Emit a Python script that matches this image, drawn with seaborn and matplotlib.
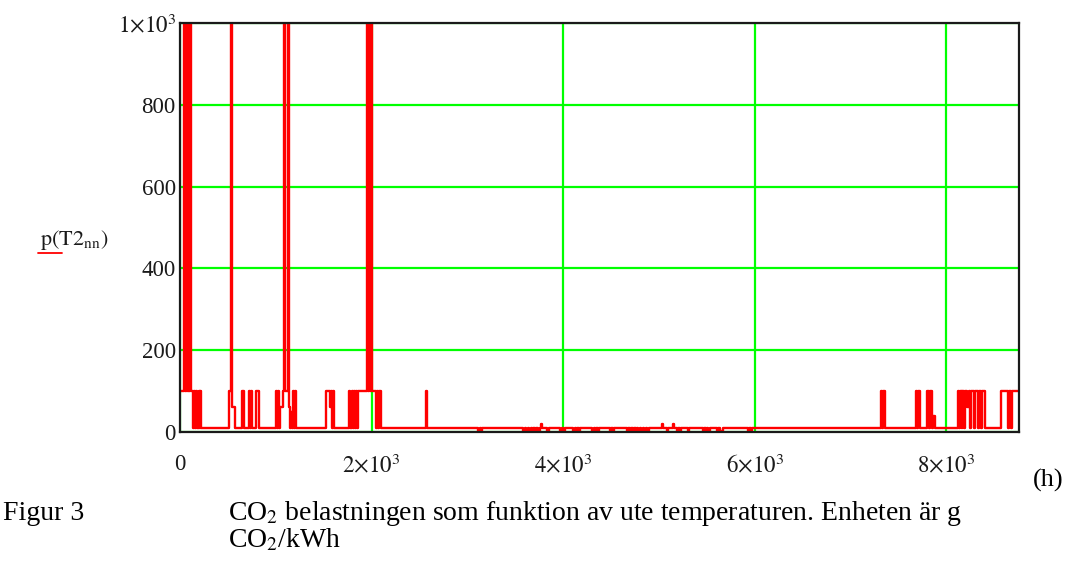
import matplotlib
matplotlib.use("Agg")
import matplotlib.pyplot as plt
from matplotlib.lines import Line2D
import seaborn as sns
import pandas as pd

# ---- data: hour at which the CO2 load changes, and the new level (g CO2/kWh) ----
change_hours = [
    0, 40, 52, 58, 70, 76, 86, 102, 114,
    134, 146, 158, 170, 182, 194, 206, 214, 220,
    510, 533, 548, 578,
    648, 668,
    716, 730, 737, 750,
    790, 822,
    1000, 1012, 1024, 1036, 1046, 1074, 1084, 1096, 1124, 1138, 1150, 1160, 1168, 1178, 1192, 1198, 1208,
    1520, 1568, 1575, 1586, 1596, 1608,
    1766, 1780, 1792, 1804, 1816, 1828, 1840, 1852, 1862,
    1950, 1962, 1972, 1984, 1994, 2008,
    2044, 2056, 2068, 2080, 2094,
    2568, 2576,
    3115, 3130, 3140, 3155, 3167,
    3583, 3600, 3615, 3630, 3645, 3660, 3675, 3690, 3705, 3720, 3735, 3760, 3768, 3776,
    3833, 3850, 3865,
    3970, 3985, 4000, 4015, 4042,
    4104, 4120, 4135, 4150, 4165, 4180, 4208,
    4302, 4318, 4333, 4348, 4363, 4378, 4406,
    4490, 4505, 4520, 4535, 4563,
    4667, 4682, 4697, 4712, 4727, 4742, 4757, 4772, 4787, 4802, 4817, 4832, 4847, 4862, 4877, 4892, 4927,
    5031, 5040, 5083, 5098, 5115, 5146, 5155,
    5188, 5203, 5218, 5233, 5250,
    5302, 5318, 5354,
    5458, 5473, 5488, 5503, 5518, 5533, 5552,
    5604, 5619, 5634, 5667,
    5927, 5942, 5957, 5972, 6000,
    7320, 7334, 7340, 7356,
    7688, 7700, 7708, 7730,
    7795, 7818, 7826, 7852, 7862, 7880,
    8118, 8132, 8142, 8160, 8170, 8190, 8200, 8222, 8238, 8252, 8262, 8290, 8300, 8330, 8340, 8362, 8372, 8400, 8413,
    8570, 8640, 8652, 8672, 8682,
]
co2_levels = [
    100, 1000, 100, 1000, 100, 1000, 100, 1000, 100,
    10, 100, 10, 100, 10, 100, 10, 100, 10,
    100, 1000, 60, 10,
    100, 10,
    100, 10, 100, 10,
    100, 10,
    100, 10, 100, 10, 60, 100, 1000, 100, 1000, 60, 10, 50, 10, 100, 10, 100, 10,
    100, 60, 100, 10, 100, 10,
    100, 10, 100, 10, 100, 10, 100, 10, 100,
    1000, 100, 1000, 100, 1000, 100,
    10, 100, 10, 100, 10,
    100, 10,
    2, 10, 2, 10, 10,
    2, 10, 2, 10, 2, 10, 2, 10, 2, 10, 2, 10, 20, 10,
    2, 10, 10,
    2, 10, 2, 10, 10,
    2, 10, 2, 10, 2, 10, 10,
    2, 10, 2, 10, 2, 10, 10,
    2, 10, 2, 10, 10,
    2, 10, 2, 10, 2, 10, 2, 10, 2, 10, 2, 10, 2, 10, 2, 10, 10,
    20, 10, 2, 10, 10, 20, 10,
    2, 10, 2, 10, 10,
    2, 10, 10,
    2, 10, 2, 10, 2, 10, 10,
    2, 10, 2, 10,
    2, 10, 2, 10, 10,
    100, 10, 100, 10,
    100, 10, 100, 10,
    100, 10, 100, 10, 40, 10,
    100, 10, 100, 10, 100, 10, 100, 60, 100, 10, 100, 10, 100, 10, 100, 10, 100, 10, 10,
    100, 10, 100, 10, 100,
]
x_ticks = [0, 2000, 4000, 6000, 8000]
x_tick_labels = ["0", r"$2{\times}10^{3}$", r"$4{\times}10^{3}$", r"$6{\times}10^{3}$", r"$8{\times}10^{3}$"]
y_ticks = [0, 200, 400, 600, 800, 1000]
y_tick_labels = ["0", "200", "400", "600", "800", r"$1{\times}10^{3}$"]
HOURS_IN_YEAR = 8760

sns.set_theme(style="white")
plt.rcParams["font.family"] = ["Liberation Serif", "DejaVu Serif"]
plt.rcParams["mathtext.fontset"] = "stix"

W, H = 1067, 561
fig = plt.figure(figsize=(W / 100, H / 100), dpi=100)
fig.patch.set_facecolor("white")
ax = fig.add_axes([180 / W, 1 - 432 / H, (1019 - 180) / W, (432 - 23) / H])

df = pd.DataFrame({
    "hour": change_hours + [HOURS_IN_YEAR],
    "co2": co2_levels + [co2_levels[-1]],
})
sns.lineplot(data=df, x="hour", y="co2", ax=ax, drawstyle="steps-post",
             color="#ff0000", linewidth=1.7, estimator=None, sort=False)

ax.set_xlim(0, HOURS_IN_YEAR)
ax.set_ylim(0, 1000)
ax.set_xticks(x_ticks)
ax.set_xticklabels(x_tick_labels)
ax.set_yticks(y_ticks)
ax.set_yticklabels(y_tick_labels)
ax.set_xlabel("")
ax.set_ylabel("")
ax.grid(True, color="#00ff00", linewidth=1.6)
ax.set_axisbelow(True)
ax.tick_params(axis="both", length=0, labelsize=16.5, colors="#1a1a1a")
ax.tick_params(axis="x", pad=16)
ax.tick_params(axis="y", pad=3)
for s in ax.spines.values():
    s.set_color("#1a1a1a")
    s.set_linewidth(1.6)
    s.set_visible(True)

fig.text(40 / W, 1 - 240 / H, r"$\mathrm{p}\left(\mathrm{T2}_{\mathrm{nn}}\right)$",
         fontsize=16, va="center", ha="left", color="#1a1a1a")
fig.add_artist(Line2D([38 / W, 62 / W], [1 - 253 / H, 1 - 253 / H], color="#ff0000",
                      linewidth=1.3, transform=fig.transFigure))
fig.text(1033 / W, 1 - 487 / H, "(h)", fontsize=19, va="baseline", ha="left", color="black")

fig.text(3 / W, 1 - 520 / H, "Figur 3", fontsize=20, va="baseline", ha="left", color="black")
fig.text(228 / W, 1 - 520 / H,
         r"CO$_2$ belastningen som funktion av ute temperaturen. Enheten är g",
         fontsize=20, va="baseline", ha="left", color="black")
fig.text(228 / W, 1 - 547 / H, r"CO$_2$/kWh", fontsize=20, va="baseline", ha="left", color="black")

fig.savefig("out.png", dpi=100)
